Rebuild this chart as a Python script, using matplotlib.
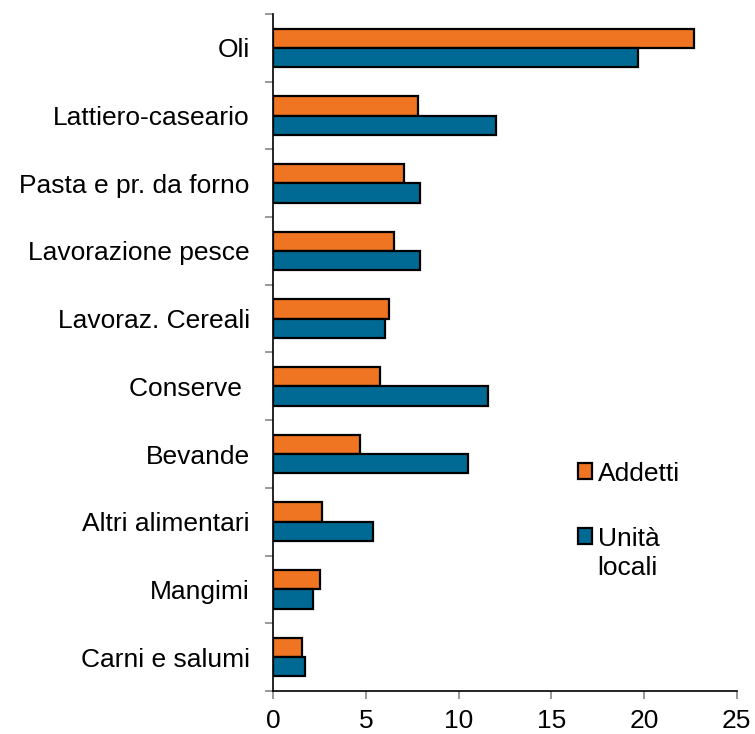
import matplotlib
matplotlib.use("Agg")
import matplotlib.pyplot as plt
import numpy as np
from matplotlib.patches import Patch

categories = ["Oli", "Lattiero-caseario", "Pasta e pr. da forno", "Lavorazione pesce",
              "Lavoraz. Cereali", "Conserve ", "Bevande", "Altri alimentari",
              "Mangimi", "Carni e salumi"]
addetti = [22.7, 7.8, 7.05, 6.5, 6.26, 5.74, 4.7, 2.65, 2.54, 1.53]
unita_locali = [19.7, 12.0, 7.9, 7.93, 6.0, 11.6, 10.5, 5.4, 2.14, 1.73]
xticks = [0, 5, 10, 15, 20, 25]

plt.rcParams['font.family'] = ['Liberation Sans', 'DejaVu Sans']

fig = plt.figure(figsize=(7.55, 7.34), dpi=100)
ax = fig.add_axes([273.3/755, 1-691/734, (736.7-273.3)/755, (691-14)/734])

orange = "#F07523"
blue = "#006A94"
fs = 19
n = len(categories)
y = np.arange(n)
h = 0.285
ax.barh(y - h/2, addetti, height=h, color=orange, edgecolor="black", linewidth=1.6, label="Addetti")
ax.barh(y + h/2, unita_locali, height=h, color=blue, edgecolor="black", linewidth=1.6, label="Unità locali")

ax.set_ylim(n - 0.5, -0.5)
ax.set_xlim(0, 25)
ax.set_yticks(y)
ax.set_yticklabels(categories, fontsize=fs)
ax.tick_params(axis="y", which="major", length=0, pad=17)
ax.set_yticks(np.arange(-0.5, n, 1), minor=True)
ax.tick_params(axis="y", which="minor", length=6, color="#888888", width=1.2, direction="out")
ax.set_xticks(xticks)
ax.set_xticklabels([str(t) for t in xticks], fontsize=fs)
ax.tick_params(axis="x", length=6, color="#888888", width=1.2, direction="out", pad=7)

for s in ["top", "right"]:
    ax.spines[s].set_visible(False)
ax.spines["left"].set_linewidth(1.2)
ax.spines["bottom"].set_linewidth(1.2)

handles = [Patch(facecolor=orange, edgecolor="black", linewidth=1.6, label="Addetti"),
           Patch(facecolor=blue, edgecolor="black", linewidth=1.6, label="Unità")]
leg = fig.legend(handles=handles, loc="upper left", bbox_to_anchor=(554/755, 1-438/734),
                 frameon=False, fontsize=fs, handlelength=0.55, handleheight=0.55,
                 handletextpad=0.2, labelspacing=1.55)

fig.canvas.draw()
bb = leg.get_texts()[1].get_window_extent()
fig.text(bb.x0 / 755, (bb.y0 - 29) / 734, "locali", fontsize=fs, ha="left", va="bottom")

fig.savefig("out.png", dpi=100)
